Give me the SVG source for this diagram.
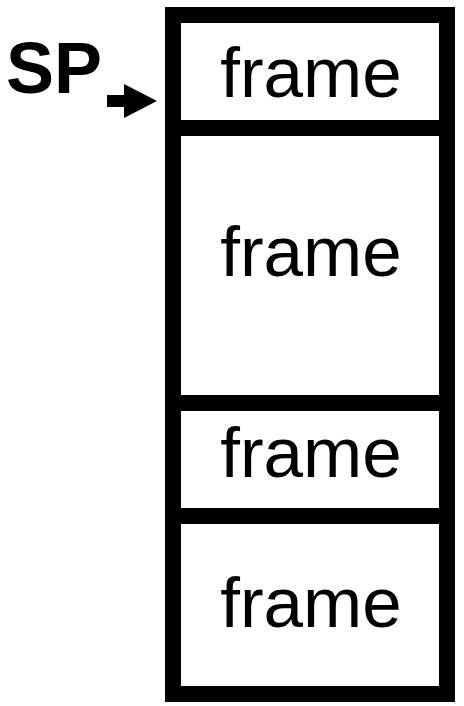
<svg xmlns="http://www.w3.org/2000/svg" width="464" height="706" viewBox="0 0 464 706">
<style>
.box{fill:none;stroke:#000;stroke-width:16}
.lbl{font-family:"Liberation Sans",Arial,sans-serif;font-size:71px;text-anchor:middle;fill:#000}
.sp{font-family:"Liberation Sans",Arial,sans-serif;font-size:72px;font-weight:bold;fill:#000}
</style>
<rect width="464" height="706" fill="#fff"/>
<g id="stack">
<rect class="box" x="173" y="15" width="274" height="679"/>
</g>
<g id="frame1"><line class="box" x1="165" y1="128" x2="455" y2="128"/><text class="lbl" x="311" y="97">frame</text></g>
<g id="frame2"><line class="box" x1="165" y1="403" x2="455" y2="403"/><text class="lbl" x="311" y="276">frame</text></g>
<g id="frame3"><line class="box" x1="165" y1="516" x2="455" y2="516"/><text class="lbl" x="311" y="477">frame</text></g>
<g id="frame4"><text class="lbl" x="311" y="627">frame</text></g>
<g id="sp"><text class="sp" x="6" y="93">SP</text></g>
<g id="connectors">
<polygon points="107,95 124,95 124,84 157,101 124,118 124,107 107,107" fill="#000"/>
</g>
</svg>
